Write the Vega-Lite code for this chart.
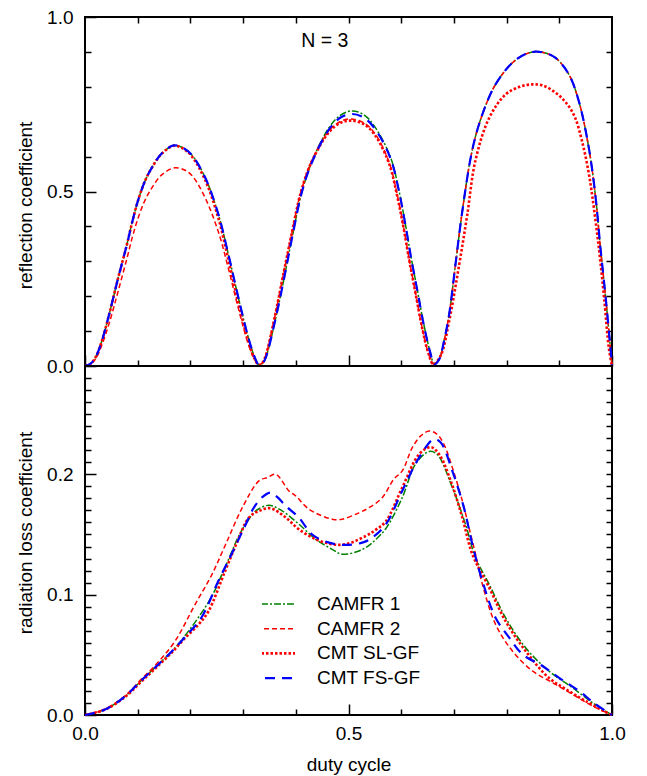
{
  "$schema": "https://vega.github.io/schema/vega-lite/v6.json",
  "background": "white",
  "padding": {"left": 15, "top": 7, "right": 5, "bottom": 0},
  "bounds": "flush",
  "spacing": 0,
  "config": {
    "view": {"stroke": "black", "strokeWidth": 2},
    "axis": {"grid": false, "domain": false, "tickColor": "black", "tickWidth": 1.5, "labelFont": "Liberation Sans", "labelFontSize": 19, "labelColor": "black", "titleFont": "Liberation Sans", "titleFontSize": 19, "titleFontWeight": "normal", "titleColor": "black", "labelFlush": false, "labelOverlap": false, "labelBound": false},
    "line": {"interpolate": "catmull-rom"}
  },
  "datasets": {
    "top": [
      {"series":"CAMFR 1","duty":0,"value":0},{"series":"CAMFR 1","duty":0.01,"value":0.006},{"series":"CAMFR 1","duty":0.02,"value":0.025},{"series":"CAMFR 1","duty":0.032,"value":0.072},{"series":"CAMFR 1","duty":0.047,"value":0.155},{"series":"CAMFR 1","duty":0.063,"value":0.253},{"series":"CAMFR 1","duty":0.079,"value":0.345},{"series":"CAMFR 1","duty":0.09,"value":0.415},{"series":"CAMFR 1","duty":0.101,"value":0.476},{"series":"CAMFR 1","duty":0.113,"value":0.527},{"series":"CAMFR 1","duty":0.126,"value":0.566},{"series":"CAMFR 1","duty":0.145,"value":0.608},{"series":"CAMFR 1","duty":0.168,"value":0.632},{"series":"CAMFR 1","duty":0.185,"value":0.626},{"series":"CAMFR 1","duty":0.202,"value":0.606},{"series":"CAMFR 1","duty":0.228,"value":0.54},{"series":"CAMFR 1","duty":0.253,"value":0.435},{"series":"CAMFR 1","duty":0.272,"value":0.32},{"series":"CAMFR 1","duty":0.291,"value":0.196},{"series":"CAMFR 1","duty":0.31,"value":0.081},{"series":"CAMFR 1","duty":0.322,"value":0.025},{"series":"CAMFR 1","duty":0.33,"value":0.003},{"series":"CAMFR 1","duty":0.337,"value":0.008},{"series":"CAMFR 1","duty":0.343,"value":0.024},{"series":"CAMFR 1","duty":0.362,"value":0.138},{"series":"CAMFR 1","duty":0.378,"value":0.253},{"series":"CAMFR 1","duty":0.393,"value":0.368},{"series":"CAMFR 1","duty":0.412,"value":0.501},{"series":"CAMFR 1","duty":0.431,"value":0.587},{"series":"CAMFR 1","duty":0.463,"value":0.683},{"series":"CAMFR 1","duty":0.485,"value":0.719},{"series":"CAMFR 1","duty":0.507,"value":0.731},{"series":"CAMFR 1","duty":0.53,"value":0.719},{"series":"CAMFR 1","duty":0.551,"value":0.683},{"series":"CAMFR 1","duty":0.58,"value":0.597},{"series":"CAMFR 1","duty":0.596,"value":0.501},{"series":"CAMFR 1","duty":0.608,"value":0.406},{"series":"CAMFR 1","duty":0.619,"value":0.31},{"series":"CAMFR 1","duty":0.631,"value":0.215},{"series":"CAMFR 1","duty":0.643,"value":0.119},{"series":"CAMFR 1","duty":0.655,"value":0.04},{"series":"CAMFR 1","duty":0.663,"value":0.005},{"series":"CAMFR 1","duty":0.672,"value":0.019},{"series":"CAMFR 1","duty":0.681,"value":0.07},{"series":"CAMFR 1","duty":0.691,"value":0.148},{"series":"CAMFR 1","duty":0.703,"value":0.291},{"series":"CAMFR 1","duty":0.716,"value":0.444},{"series":"CAMFR 1","duty":0.735,"value":0.62},{"series":"CAMFR 1","duty":0.754,"value":0.721},{"series":"CAMFR 1","duty":0.779,"value":0.807},{"series":"CAMFR 1","duty":0.811,"value":0.869},{"series":"CAMFR 1","duty":0.835,"value":0.893},{"series":"CAMFR 1","duty":0.855,"value":0.901},{"series":"CAMFR 1","duty":0.875,"value":0.896},{"series":"CAMFR 1","duty":0.893,"value":0.883},{"series":"CAMFR 1","duty":0.918,"value":0.836},{"series":"CAMFR 1","duty":0.937,"value":0.759},{"series":"CAMFR 1","duty":0.956,"value":0.625},{"series":"CAMFR 1","duty":0.969,"value":0.482},{"series":"CAMFR 1","duty":0.978,"value":0.339},{"series":"CAMFR 1","duty":0.988,"value":0.196},{"series":"CAMFR 1","duty":0.997,"value":0.052},{"series":"CAMFR 1","duty":1,"value":0},

      {"series":"CAMFR 2","duty":0,"value":0},{"series":"CAMFR 2","duty":0.01,"value":0.005},{"series":"CAMFR 2","duty":0.02,"value":0.02},{"series":"CAMFR 2","duty":0.032,"value":0.06},{"series":"CAMFR 2","duty":0.047,"value":0.128},{"series":"CAMFR 2","duty":0.063,"value":0.215},{"series":"CAMFR 2","duty":0.079,"value":0.305},{"series":"CAMFR 2","duty":0.09,"value":0.37},{"series":"CAMFR 2","duty":0.101,"value":0.425},{"series":"CAMFR 2","duty":0.113,"value":0.472},{"series":"CAMFR 2","duty":0.126,"value":0.508},{"series":"CAMFR 2","duty":0.145,"value":0.547},{"series":"CAMFR 2","duty":0.17,"value":0.568},{"series":"CAMFR 2","duty":0.19,"value":0.561},{"series":"CAMFR 2","duty":0.205,"value":0.542},{"series":"CAMFR 2","duty":0.228,"value":0.482},{"series":"CAMFR 2","duty":0.253,"value":0.385},{"series":"CAMFR 2","duty":0.272,"value":0.28},{"series":"CAMFR 2","duty":0.291,"value":0.165},{"series":"CAMFR 2","duty":0.31,"value":0.062},{"series":"CAMFR 2","duty":0.322,"value":0.018},{"series":"CAMFR 2","duty":0.33,"value":0.003},{"series":"CAMFR 2","duty":0.337,"value":0.01},{"series":"CAMFR 2","duty":0.343,"value":0.03},{"series":"CAMFR 2","duty":0.36,"value":0.14},{"series":"CAMFR 2","duty":0.376,"value":0.26},{"series":"CAMFR 2","duty":0.391,"value":0.37},{"series":"CAMFR 2","duty":0.41,"value":0.5},{"series":"CAMFR 2","duty":0.43,"value":0.587},{"series":"CAMFR 2","duty":0.463,"value":0.674},{"series":"CAMFR 2","duty":0.485,"value":0.701},{"series":"CAMFR 2","duty":0.505,"value":0.708},{"series":"CAMFR 2","duty":0.53,"value":0.696},{"series":"CAMFR 2","duty":0.551,"value":0.664},{"series":"CAMFR 2","duty":0.577,"value":0.584},{"series":"CAMFR 2","duty":0.592,"value":0.494},{"series":"CAMFR 2","duty":0.604,"value":0.403},{"series":"CAMFR 2","duty":0.615,"value":0.307},{"series":"CAMFR 2","duty":0.627,"value":0.211},{"series":"CAMFR 2","duty":0.639,"value":0.115},{"series":"CAMFR 2","duty":0.651,"value":0.04},{"series":"CAMFR 2","duty":0.661,"value":0.006},{"series":"CAMFR 2","duty":0.672,"value":0.019},{"series":"CAMFR 2","duty":0.681,"value":0.07},{"series":"CAMFR 2","duty":0.691,"value":0.148},{"series":"CAMFR 2","duty":0.703,"value":0.291},{"series":"CAMFR 2","duty":0.716,"value":0.444},{"series":"CAMFR 2","duty":0.735,"value":0.62},{"series":"CAMFR 2","duty":0.754,"value":0.721},{"series":"CAMFR 2","duty":0.779,"value":0.807},{"series":"CAMFR 2","duty":0.811,"value":0.869},{"series":"CAMFR 2","duty":0.835,"value":0.893},{"series":"CAMFR 2","duty":0.855,"value":0.901},{"series":"CAMFR 2","duty":0.875,"value":0.896},{"series":"CAMFR 2","duty":0.893,"value":0.883},{"series":"CAMFR 2","duty":0.918,"value":0.836},{"series":"CAMFR 2","duty":0.937,"value":0.759},{"series":"CAMFR 2","duty":0.956,"value":0.625},{"series":"CAMFR 2","duty":0.969,"value":0.482},{"series":"CAMFR 2","duty":0.978,"value":0.339},{"series":"CAMFR 2","duty":0.988,"value":0.196},{"series":"CAMFR 2","duty":0.997,"value":0.052},{"series":"CAMFR 2","duty":1,"value":0},

      {"series":"CMT SL-GF","duty":0,"value":0},{"series":"CMT SL-GF","duty":0.01,"value":0.006},{"series":"CMT SL-GF","duty":0.02,"value":0.025},{"series":"CMT SL-GF","duty":0.032,"value":0.072},{"series":"CMT SL-GF","duty":0.047,"value":0.155},{"series":"CMT SL-GF","duty":0.063,"value":0.253},{"series":"CMT SL-GF","duty":0.079,"value":0.345},{"series":"CMT SL-GF","duty":0.09,"value":0.415},{"series":"CMT SL-GF","duty":0.101,"value":0.476},{"series":"CMT SL-GF","duty":0.113,"value":0.527},{"series":"CMT SL-GF","duty":0.126,"value":0.566},{"series":"CMT SL-GF","duty":0.145,"value":0.607},{"series":"CMT SL-GF","duty":0.168,"value":0.631},{"series":"CMT SL-GF","duty":0.185,"value":0.624},{"series":"CMT SL-GF","duty":0.202,"value":0.602},{"series":"CMT SL-GF","duty":0.228,"value":0.533},{"series":"CMT SL-GF","duty":0.253,"value":0.424},{"series":"CMT SL-GF","duty":0.272,"value":0.305},{"series":"CMT SL-GF","duty":0.291,"value":0.18},{"series":"CMT SL-GF","duty":0.31,"value":0.07},{"series":"CMT SL-GF","duty":0.322,"value":0.02},{"series":"CMT SL-GF","duty":0.33,"value":0.003},{"series":"CMT SL-GF","duty":0.337,"value":0.01},{"series":"CMT SL-GF","duty":0.343,"value":0.03},{"series":"CMT SL-GF","duty":0.36,"value":0.14},{"series":"CMT SL-GF","duty":0.376,"value":0.26},{"series":"CMT SL-GF","duty":0.391,"value":0.37},{"series":"CMT SL-GF","duty":0.41,"value":0.5},{"series":"CMT SL-GF","duty":0.43,"value":0.585},{"series":"CMT SL-GF","duty":0.463,"value":0.67},{"series":"CMT SL-GF","duty":0.485,"value":0.697},{"series":"CMT SL-GF","duty":0.505,"value":0.703},{"series":"CMT SL-GF","duty":0.53,"value":0.692},{"series":"CMT SL-GF","duty":0.551,"value":0.66},{"series":"CMT SL-GF","duty":0.577,"value":0.58},{"series":"CMT SL-GF","duty":0.592,"value":0.49},{"series":"CMT SL-GF","duty":0.604,"value":0.4},{"series":"CMT SL-GF","duty":0.615,"value":0.305},{"series":"CMT SL-GF","duty":0.627,"value":0.21},{"series":"CMT SL-GF","duty":0.639,"value":0.115},{"series":"CMT SL-GF","duty":0.651,"value":0.04},{"series":"CMT SL-GF","duty":0.661,"value":0.005},{"series":"CMT SL-GF","duty":0.675,"value":0.03},{"series":"CMT SL-GF","duty":0.691,"value":0.129},{"series":"CMT SL-GF","duty":0.71,"value":0.29},{"series":"CMT SL-GF","duty":0.725,"value":0.43},{"series":"CMT SL-GF","duty":0.741,"value":0.59},{"series":"CMT SL-GF","duty":0.767,"value":0.711},{"series":"CMT SL-GF","duty":0.798,"value":0.778},{"series":"CMT SL-GF","duty":0.825,"value":0.8},{"series":"CMT SL-GF","duty":0.849,"value":0.807},{"series":"CMT SL-GF","duty":0.87,"value":0.803},{"series":"CMT SL-GF","duty":0.893,"value":0.783},{"series":"CMT SL-GF","duty":0.912,"value":0.756},{"series":"CMT SL-GF","duty":0.929,"value":0.715},{"series":"CMT SL-GF","duty":0.943,"value":0.645},{"series":"CMT SL-GF","duty":0.955,"value":0.56},{"series":"CMT SL-GF","duty":0.963,"value":0.482},{"series":"CMT SL-GF","duty":0.975,"value":0.339},{"series":"CMT SL-GF","duty":0.985,"value":0.196},{"series":"CMT SL-GF","duty":0.994,"value":0.052},{"series":"CMT SL-GF","duty":1,"value":0},

      {"series":"CMT FS-GF","duty":0,"value":0},{"series":"CMT FS-GF","duty":0.01,"value":0.006},{"series":"CMT FS-GF","duty":0.02,"value":0.025},{"series":"CMT FS-GF","duty":0.032,"value":0.072},{"series":"CMT FS-GF","duty":0.047,"value":0.155},{"series":"CMT FS-GF","duty":0.063,"value":0.253},{"series":"CMT FS-GF","duty":0.079,"value":0.345},{"series":"CMT FS-GF","duty":0.09,"value":0.415},{"series":"CMT FS-GF","duty":0.101,"value":0.476},{"series":"CMT FS-GF","duty":0.113,"value":0.527},{"series":"CMT FS-GF","duty":0.126,"value":0.566},{"series":"CMT FS-GF","duty":0.145,"value":0.608},{"series":"CMT FS-GF","duty":0.168,"value":0.632},{"series":"CMT FS-GF","duty":0.185,"value":0.626},{"series":"CMT FS-GF","duty":0.202,"value":0.606},{"series":"CMT FS-GF","duty":0.228,"value":0.54},{"series":"CMT FS-GF","duty":0.253,"value":0.435},{"series":"CMT FS-GF","duty":0.272,"value":0.32},{"series":"CMT FS-GF","duty":0.291,"value":0.196},{"series":"CMT FS-GF","duty":0.31,"value":0.081},{"series":"CMT FS-GF","duty":0.322,"value":0.025},{"series":"CMT FS-GF","duty":0.33,"value":0.003},{"series":"CMT FS-GF","duty":0.337,"value":0.008},{"series":"CMT FS-GF","duty":0.343,"value":0.024},{"series":"CMT FS-GF","duty":0.362,"value":0.138},{"series":"CMT FS-GF","duty":0.378,"value":0.253},{"series":"CMT FS-GF","duty":0.393,"value":0.368},{"series":"CMT FS-GF","duty":0.412,"value":0.501},{"series":"CMT FS-GF","duty":0.431,"value":0.585},{"series":"CMT FS-GF","duty":0.463,"value":0.678},{"series":"CMT FS-GF","duty":0.485,"value":0.712},{"series":"CMT FS-GF","duty":0.507,"value":0.722},{"series":"CMT FS-GF","duty":0.53,"value":0.711},{"series":"CMT FS-GF","duty":0.551,"value":0.678},{"series":"CMT FS-GF","duty":0.58,"value":0.594},{"series":"CMT FS-GF","duty":0.596,"value":0.499},{"series":"CMT FS-GF","duty":0.608,"value":0.404},{"series":"CMT FS-GF","duty":0.619,"value":0.308},{"series":"CMT FS-GF","duty":0.631,"value":0.213},{"series":"CMT FS-GF","duty":0.643,"value":0.117},{"series":"CMT FS-GF","duty":0.655,"value":0.039},{"series":"CMT FS-GF","duty":0.663,"value":0.005},{"series":"CMT FS-GF","duty":0.672,"value":0.019},{"series":"CMT FS-GF","duty":0.681,"value":0.07},{"series":"CMT FS-GF","duty":0.691,"value":0.148},{"series":"CMT FS-GF","duty":0.703,"value":0.291},{"series":"CMT FS-GF","duty":0.716,"value":0.444},{"series":"CMT FS-GF","duty":0.735,"value":0.62},{"series":"CMT FS-GF","duty":0.754,"value":0.721},{"series":"CMT FS-GF","duty":0.779,"value":0.807},{"series":"CMT FS-GF","duty":0.811,"value":0.869},{"series":"CMT FS-GF","duty":0.835,"value":0.893},{"series":"CMT FS-GF","duty":0.855,"value":0.901},{"series":"CMT FS-GF","duty":0.875,"value":0.896},{"series":"CMT FS-GF","duty":0.893,"value":0.883},{"series":"CMT FS-GF","duty":0.918,"value":0.836},{"series":"CMT FS-GF","duty":0.937,"value":0.759},{"series":"CMT FS-GF","duty":0.956,"value":0.625},{"series":"CMT FS-GF","duty":0.969,"value":0.482},{"series":"CMT FS-GF","duty":0.978,"value":0.339},{"series":"CMT FS-GF","duty":0.988,"value":0.196},{"series":"CMT FS-GF","duty":0.997,"value":0.052},{"series":"CMT FS-GF","duty":1,"value":0}
    ],
    "bottom": [
      {"series":"CAMFR 1","duty":0,"value":0},{"series":"CAMFR 1","duty":0.038,"value":0.0045},{"series":"CAMFR 1","duty":0.076,"value":0.0155},{"series":"CAMFR 1","duty":0.1075,"value":0.029},{"series":"CAMFR 1","duty":0.139,"value":0.042},{"series":"CAMFR 1","duty":0.165,"value":0.053},{"series":"CAMFR 1","duty":0.19,"value":0.066},{"series":"CAMFR 1","duty":0.215,"value":0.081},{"series":"CAMFR 1","duty":0.24,"value":0.098},{"series":"CAMFR 1","duty":0.259,"value":0.116},{"series":"CAMFR 1","duty":0.275,"value":0.132},{"series":"CAMFR 1","duty":0.292,"value":0.149},{"series":"CAMFR 1","duty":0.31,"value":0.162},{"series":"CAMFR 1","duty":0.324,"value":0.1696},{"series":"CAMFR 1","duty":0.349,"value":0.1743},{"series":"CAMFR 1","duty":0.374,"value":0.1696},{"series":"CAMFR 1","duty":0.406,"value":0.1585},{"series":"CAMFR 1","duty":0.438,"value":0.146},{"series":"CAMFR 1","duty":0.469,"value":0.1377},{"series":"CAMFR 1","duty":0.488,"value":0.1336},{"series":"CAMFR 1","duty":0.52,"value":0.1363},{"series":"CAMFR 1","duty":0.539,"value":0.141},{"series":"CAMFR 1","duty":0.552,"value":0.146},{"series":"CAMFR 1","duty":0.571,"value":0.155},{"series":"CAMFR 1","duty":0.602,"value":0.1806},{"series":"CAMFR 1","duty":0.627,"value":0.2084},{"series":"CAMFR 1","duty":0.653,"value":0.219},{"series":"CAMFR 1","duty":0.668,"value":0.2167},{"series":"CAMFR 1","duty":0.697,"value":0.189},{"series":"CAMFR 1","duty":0.722,"value":0.1585},{"series":"CAMFR 1","duty":0.741,"value":0.1308},{"series":"CAMFR 1","duty":0.767,"value":0.1086},{"series":"CAMFR 1","duty":0.798,"value":0.0809},{"series":"CAMFR 1","duty":0.836,"value":0.0559},{"series":"CAMFR 1","duty":0.88,"value":0.0366},{"series":"CAMFR 1","duty":0.925,"value":0.0227},{"series":"CAMFR 1","duty":0.963,"value":0.0102},{"series":"CAMFR 1","duty":1,"value":0},

      {"series":"CAMFR 2","duty":0,"value":0},{"series":"CAMFR 2","duty":0.038,"value":0.005},{"series":"CAMFR 2","duty":0.076,"value":0.016},{"series":"CAMFR 2","duty":0.1075,"value":0.03},{"series":"CAMFR 2","duty":0.139,"value":0.044},{"series":"CAMFR 2","duty":0.171,"value":0.0615},{"series":"CAMFR 2","duty":0.209,"value":0.092},{"series":"CAMFR 2","duty":0.24,"value":0.116},{"series":"CAMFR 2","duty":0.267,"value":0.1419},{"series":"CAMFR 2","duty":0.2985,"value":0.1723},{"series":"CAMFR 2","duty":0.33,"value":0.1945},{"series":"CAMFR 2","duty":0.346,"value":0.1973},{"series":"CAMFR 2","duty":0.362,"value":0.2},{"series":"CAMFR 2","duty":0.387,"value":0.1862},{"series":"CAMFR 2","duty":0.4,"value":0.182},{"series":"CAMFR 2","duty":0.425,"value":0.171},{"series":"CAMFR 2","duty":0.469,"value":0.1627},{"series":"CAMFR 2","duty":0.488,"value":0.1627},{"series":"CAMFR 2","duty":0.52,"value":0.168},{"series":"CAMFR 2","duty":0.539,"value":0.1723},{"series":"CAMFR 2","duty":0.564,"value":0.1806},{"series":"CAMFR 2","duty":0.586,"value":0.196},{"series":"CAMFR 2","duty":0.602,"value":0.2028},{"series":"CAMFR 2","duty":0.621,"value":0.2222},{"series":"CAMFR 2","duty":0.637,"value":0.2319},{"series":"CAMFR 2","duty":0.653,"value":0.236},{"series":"CAMFR 2","duty":0.668,"value":0.2333},{"series":"CAMFR 2","duty":0.681,"value":0.225},{"series":"CAMFR 2","duty":0.697,"value":0.2056},{"series":"CAMFR 2","duty":0.716,"value":0.1779},{"series":"CAMFR 2","duty":0.729,"value":0.155},{"series":"CAMFR 2","duty":0.741,"value":0.1336},{"series":"CAMFR 2","duty":0.752,"value":0.112},{"series":"CAMFR 2","duty":0.779,"value":0.0754},{"series":"CAMFR 2","duty":0.811,"value":0.0532},{"series":"CAMFR 2","duty":0.849,"value":0.0366},{"series":"CAMFR 2","duty":0.887,"value":0.0269},{"series":"CAMFR 2","duty":0.925,"value":0.0172},{"series":"CAMFR 2","duty":0.963,"value":0.0075},{"series":"CAMFR 2","duty":1,"value":0},

      {"series":"CMT SL-GF","duty":0,"value":0},{"series":"CMT SL-GF","duty":0.038,"value":0.0045},{"series":"CMT SL-GF","duty":0.076,"value":0.015},{"series":"CMT SL-GF","duty":0.1075,"value":0.028},{"series":"CMT SL-GF","duty":0.139,"value":0.041},{"series":"CMT SL-GF","duty":0.165,"value":0.052},{"series":"CMT SL-GF","duty":0.19,"value":0.064},{"series":"CMT SL-GF","duty":0.215,"value":0.075},{"series":"CMT SL-GF","duty":0.234,"value":0.086},{"series":"CMT SL-GF","duty":0.266,"value":0.1197},{"series":"CMT SL-GF","duty":0.29,"value":0.145},{"series":"CMT SL-GF","duty":0.311,"value":0.164},{"series":"CMT SL-GF","duty":0.33,"value":0.1695},{"series":"CMT SL-GF","duty":0.352,"value":0.1718},{"series":"CMT SL-GF","duty":0.381,"value":0.164},{"series":"CMT SL-GF","duty":0.406,"value":0.1543},{"series":"CMT SL-GF","duty":0.438,"value":0.146},{"series":"CMT SL-GF","duty":0.469,"value":0.1419},{"series":"CMT SL-GF","duty":0.495,"value":0.1419},{"series":"CMT SL-GF","duty":0.533,"value":0.1488},{"series":"CMT SL-GF","duty":0.552,"value":0.154},{"series":"CMT SL-GF","duty":0.571,"value":0.161},{"series":"CMT SL-GF","duty":0.602,"value":0.189},{"series":"CMT SL-GF","duty":0.634,"value":0.2167},{"series":"CMT SL-GF","duty":0.656,"value":0.2225},{"series":"CMT SL-GF","duty":0.672,"value":0.2167},{"series":"CMT SL-GF","duty":0.694,"value":0.1945},{"series":"CMT SL-GF","duty":0.716,"value":0.164},{"series":"CMT SL-GF","duty":0.735,"value":0.1336},{"series":"CMT SL-GF","duty":0.767,"value":0.1058},{"series":"CMT SL-GF","duty":0.798,"value":0.0781},{"series":"CMT SL-GF","duty":0.836,"value":0.0532},{"series":"CMT SL-GF","duty":0.88,"value":0.031},{"series":"CMT SL-GF","duty":0.918,"value":0.02},{"series":"CMT SL-GF","duty":0.95,"value":0.0116},{"series":"CMT SL-GF","duty":0.99,"value":0.002},{"series":"CMT SL-GF","duty":1,"value":0},

      {"series":"CMT FS-GF","duty":0,"value":0},{"series":"CMT FS-GF","duty":0.038,"value":0.0045},{"series":"CMT FS-GF","duty":0.076,"value":0.0155},{"series":"CMT FS-GF","duty":0.1075,"value":0.029},{"series":"CMT FS-GF","duty":0.139,"value":0.042},{"series":"CMT FS-GF","duty":0.165,"value":0.053},{"series":"CMT FS-GF","duty":0.19,"value":0.065},{"series":"CMT FS-GF","duty":0.221,"value":0.081},{"series":"CMT FS-GF","duty":0.253,"value":0.1114},{"series":"CMT FS-GF","duty":0.278,"value":0.1336},{"series":"CMT FS-GF","duty":0.3035,"value":0.157},{"series":"CMT FS-GF","duty":0.32,"value":0.172},{"series":"CMT FS-GF","duty":0.3365,"value":0.181},{"series":"CMT FS-GF","duty":0.352,"value":0.1848},{"series":"CMT FS-GF","duty":0.365,"value":0.181},{"series":"CMT FS-GF","duty":0.381,"value":0.1737},{"series":"CMT FS-GF","duty":0.406,"value":0.164},{"series":"CMT FS-GF","duty":0.431,"value":0.15},{"series":"CMT FS-GF","duty":0.463,"value":0.1432},{"series":"CMT FS-GF","duty":0.495,"value":0.1413},{"series":"CMT FS-GF","duty":0.526,"value":0.1432},{"series":"CMT FS-GF","duty":0.545,"value":0.1474},{"series":"CMT FS-GF","duty":0.571,"value":0.1585},{"series":"CMT FS-GF","duty":0.602,"value":0.1862},{"series":"CMT FS-GF","duty":0.634,"value":0.2139},{"series":"CMT FS-GF","duty":0.662,"value":0.2292},{"series":"CMT FS-GF","duty":0.675,"value":0.2264},{"series":"CMT FS-GF","duty":0.697,"value":0.2028},{"series":"CMT FS-GF","duty":0.719,"value":0.1723},{"series":"CMT FS-GF","duty":0.735,"value":0.1419},{"series":"CMT FS-GF","duty":0.754,"value":0.1114},{"series":"CMT FS-GF","duty":0.779,"value":0.0809},{"series":"CMT FS-GF","duty":0.805,"value":0.0643},{"series":"CMT FS-GF","duty":0.83,"value":0.0505},{"series":"CMT FS-GF","duty":0.868,"value":0.0407},{"series":"CMT FS-GF","duty":0.899,"value":0.031},{"series":"CMT FS-GF","duty":0.937,"value":0.02},{"series":"CMT FS-GF","duty":0.969,"value":0.0089},{"series":"CMT FS-GF","duty":1,"value":0}
    ]
  },
  "resolve": {"scale": {"color": "independent", "strokeDash": "independent"}, "legend": {"color": "independent", "strokeDash": "independent"}},
  "vconcat": [
    {
      "width": 527,
      "height": 349,
      "layer": [
        {
          "data": {"name": "top"},
          "encoding": {
            "color": {"field": "series", "type": "nominal", "scale": {"domain": ["CAMFR 1", "CAMFR 2", "CMT SL-GF", "CMT FS-GF"], "range": ["#008000", "#ff0000", "#ff0000", "#0000ff"]}, "legend": null},
            "strokeDash": {"field": "series", "type": "nominal", "scale": {"domain": ["CAMFR 1", "CAMFR 2", "CMT SL-GF", "CMT FS-GF"], "range": [[7, 2, 2, 2], [5, 3], [2.5, 2], [10, 7]]}, "legend": null}
          },
          "layer": [
            {
              "transform": [{"filter": "datum.series === 'CAMFR 1'"}],
              "mark": {"type": "line", "strokeWidth": 1.5},
              "encoding": {
                "x": {"field": "duty", "type": "quantitative", "scale": {"domain": [0, 1], "nice": false}, "axis": {"orient": "bottom", "values": [0, 0.5, 1], "tickSize": -11, "labels": false, "title": null}},
                "y": {"field": "value", "type": "quantitative", "scale": {"domain": [0, 1], "nice": false}, "axis": {"orient": "left", "values": [0, 0.5, 1], "format": ".1f", "tickSize": -11, "labelPadding": 23, "title": "reflection coefficient", "titlePadding": 11, "titleY": 188}}
              }
            },
            {
              "transform": [{"filter": "datum.series === 'CAMFR 2'"}],
              "mark": {"type": "line", "strokeWidth": 1.5},
              "encoding": {
                "x": {"field": "duty", "type": "quantitative", "scale": {"domain": [0, 1], "nice": false}, "axis": {"orient": "bottom", "values": [0.1, 0.2, 0.3, 0.4, 0.6, 0.7, 0.8, 0.9], "tickSize": -6, "labels": false, "title": null}},
                "y": {"field": "value", "type": "quantitative", "scale": {"domain": [0, 1], "nice": false}, "axis": {"orient": "left", "values": [0.1, 0.2, 0.3, 0.4, 0.6, 0.7, 0.8, 0.9], "tickSize": -6, "labels": false, "title": null}}
              }
            },
            {
              "transform": [{"filter": "datum.series === 'CMT SL-GF'"}],
              "mark": {"type": "line", "strokeWidth": 2.6},
              "encoding": {
                "x": {"field": "duty", "type": "quantitative", "scale": {"domain": [0, 1], "nice": false}, "axis": {"orient": "top", "values": [0.1, 0.2, 0.3, 0.4, 0.5, 0.6, 0.7, 0.8, 0.9], "tickSize": -6, "labels": false, "title": null}},
                "y": {"field": "value", "type": "quantitative", "scale": {"domain": [0, 1], "nice": false}, "axis": {"orient": "right", "values": [0.1, 0.2, 0.3, 0.4, 0.5, 0.6, 0.7, 0.8, 0.9], "tickSize": -6, "labels": false, "title": null}}
              }
            },
            {
              "transform": [{"filter": "datum.series === 'CMT FS-GF'"}],
              "mark": {"type": "line", "strokeWidth": 2.2},
              "encoding": {
                "x": {"field": "duty", "type": "quantitative", "scale": {"domain": [0, 1], "nice": false}, "axis": null},
                "y": {"field": "value", "type": "quantitative", "scale": {"domain": [0, 1], "nice": false}, "axis": null}
              }
            }
          ],
          "resolve": {"axis": {"x": "independent", "y": "independent"}}
        },
        {
          "data": {"values": [{"duty": 0.455, "value": 0.931, "label": "N = 3"}]},
          "mark": {"type": "text", "font": "Liberation Sans", "fontSize": 19.5, "align": "center", "baseline": "middle", "color": "black"},
          "encoding": {
            "x": {"field": "duty", "type": "quantitative", "scale": {"domain": [0, 1], "nice": false}, "axis": null},
            "y": {"field": "value", "type": "quantitative", "scale": {"domain": [0, 1], "nice": false}, "axis": null},
            "text": {"field": "label"}
          }
        }
      ],
      "resolve": {"axis": {"x": "independent", "y": "independent"}}
    },
    {
      "width": 527,
      "height": 349,
      "data": {"name": "bottom"},
      "encoding": {
        "color": {"field": "series", "type": "nominal", "scale": {"domain": ["CAMFR 1", "CAMFR 2", "CMT SL-GF", "CMT FS-GF"], "range": ["#008000", "#ff0000", "#ff0000", "#0000ff"]}, "legend": {"orient": "none", "legendX": 177, "legendY": 228, "title": null, "labelFont": "Liberation Sans", "labelFontSize": 19, "labelColor": "black", "symbolType": "stroke", "symbolSize": 2209, "clipHeight": 20, "rowPadding": 4.7, "labelOffset": 36, "padding": 0, "encode": {"symbols": {"update": {"strokeWidth": {"signal": "datum.value === 'CMT SL-GF' ? 2.6 : datum.value === 'CMT FS-GF' ? 2.2 : 1.5"}}}}}},
        "strokeDash": {"field": "series", "type": "nominal", "scale": {"domain": ["CAMFR 1", "CAMFR 2", "CMT SL-GF", "CMT FS-GF"], "range": [[7, 2, 2, 2], [5, 3], [2.5, 2], [10, 7]]}, "legend": {"orient": "none", "legendX": 177, "legendY": 228, "title": null, "labelFont": "Liberation Sans", "labelFontSize": 19, "labelColor": "black", "symbolType": "stroke", "symbolSize": 2209, "clipHeight": 20, "rowPadding": 4.7, "labelOffset": 36, "padding": 0, "encode": {"symbols": {"update": {"strokeWidth": {"signal": "datum.value === 'CMT SL-GF' ? 2.6 : datum.value === 'CMT FS-GF' ? 2.2 : 1.5"}}}}}}
      },
      "layer": [
        {
          "transform": [{"filter": "datum.series === 'CAMFR 1'"}],
          "mark": {"type": "line", "strokeWidth": 1.5},
          "encoding": {
            "x": {"field": "duty", "type": "quantitative", "scale": {"domain": [0, 1], "nice": false}, "axis": {"orient": "bottom", "values": [0, 0.5, 1], "format": ".1f", "tickSize": -11, "labelPadding": 20, "title": "duty cycle", "titlePadding": 12}},
            "y": {"field": "value", "type": "quantitative", "scale": {"domain": [0, 0.29], "nice": false}, "axis": {"orient": "left", "values": [0, 0.1, 0.2], "format": ".1f", "tickSize": -11, "labelPadding": 23, "title": "radiation loss coefficient", "titlePadding": 11, "titleY": 166.5}}
          }
        },
        {
          "transform": [{"filter": "datum.series === 'CAMFR 2'"}],
          "mark": {"type": "line", "strokeWidth": 1.5},
          "encoding": {
            "x": {"field": "duty", "type": "quantitative", "scale": {"domain": [0, 1], "nice": false}, "axis": {"orient": "bottom", "values": [0.1, 0.2, 0.3, 0.4, 0.6, 0.7, 0.8, 0.9], "tickSize": -6, "labels": false, "title": null}},
            "y": {"field": "value", "type": "quantitative", "scale": {"domain": [0, 0.29], "nice": false}, "axis": {"orient": "left", "values": [0.01, 0.02, 0.03, 0.04, 0.05, 0.06, 0.07, 0.08, 0.09, 0.11, 0.12, 0.13, 0.14, 0.15, 0.16, 0.17, 0.18, 0.19, 0.21, 0.22, 0.23, 0.24, 0.25, 0.26, 0.27, 0.28], "tickSize": -6, "labels": false, "title": null}}
          }
        },
        {
          "transform": [{"filter": "datum.series === 'CMT SL-GF'"}],
          "mark": {"type": "line", "strokeWidth": 2.6},
          "encoding": {
            "x": {"field": "duty", "type": "quantitative", "scale": {"domain": [0, 1], "nice": false}, "axis": null},
            "y": {"field": "value", "type": "quantitative", "scale": {"domain": [0, 0.29], "nice": false}, "axis": {"orient": "right", "values": [0.01, 0.02, 0.03, 0.04, 0.05, 0.06, 0.07, 0.08, 0.09, 0.1, 0.11, 0.12, 0.13, 0.14, 0.15, 0.16, 0.17, 0.18, 0.19, 0.2, 0.21, 0.22, 0.23, 0.24, 0.25, 0.26, 0.27, 0.28], "tickSize": -6, "labels": false, "title": null}}
          }
        },
        {
          "transform": [{"filter": "datum.series === 'CMT FS-GF'"}],
          "mark": {"type": "line", "strokeWidth": 2.2},
          "encoding": {
            "x": {"field": "duty", "type": "quantitative", "scale": {"domain": [0, 1], "nice": false}, "axis": null},
            "y": {"field": "value", "type": "quantitative", "scale": {"domain": [0, 0.29], "nice": false}, "axis": null}
          }
        }
      ],
      "resolve": {"axis": {"x": "independent", "y": "independent"}}
    }
  ]
}
